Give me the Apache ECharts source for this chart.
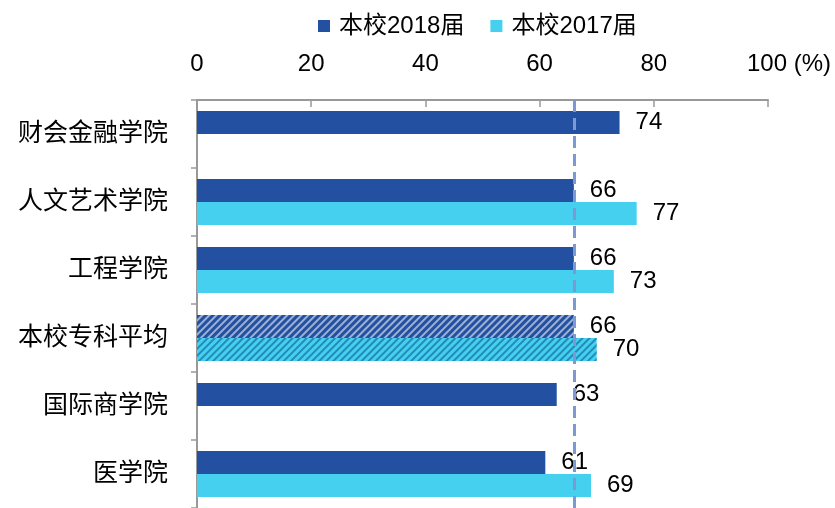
<!DOCTYPE html>
<html>
<head>
<meta charset="utf-8">
<script src="https://cdn.jsdelivr.net/npm/echarts@6/dist/echarts.min.js"></script>
<style>html,body{margin:0;padding:0;background:#fff}#c{width:835px;height:508px}</style>
</head>
<body>
<div id="c"></div>
<script>
const categories = ['财会金融学院', '人文艺术学院', '工程学院', '本校专科平均', '国际商学院', '医学院'];
const values2018 = [74, 66, 66, 66, 63, 61];
const values2017 = [null, 77, 73, 70, null, 69];
const seriesNames = ['本校2018届', '本校2017届'];
const averageLine = 66;
const hatchedCategory = '本校专科平均';
const xTicks = [0, 20, 40, 60, 80, 100];

const FONT = '"Liberation Sans", Arial, "Noto Sans CJK SC", sans-serif';
const DARK = '#2350a0';
const CYAN = '#45d0f0';

function buildData(vals, decalColor) {
  return vals.map((v, i) => {
    if (categories[i] === hatchedCategory) {
      return {
        value: v,
        itemStyle: {
          decal: {
            symbol: 'rect',
            color: decalColor,
            dashArrayX: [1, 0],
            dashArrayY: [2, 3],
            rotation: -Math.PI / 4,
            symbolSize: 1
          }
        }
      };
    }
    return v;
  });
}

const labelCfg = {
  show: true,
  position: 'right',
  distance: 16,
  color: '#000',
  fontSize: 24,
  fontFamily: FONT
};

const chart = echarts.init(document.getElementById('c'), null, { renderer: 'canvas' });
chart.setOption({
  animation: false,
  backgroundColor: '#fff',
  legend: {
    data: seriesNames,
    left: 313,
    top: 9,
    itemWidth: 12,
    itemHeight: 12,
    itemGap: 26,
    icon: 'rect',
    textStyle: { fontSize: 24, fontFamily: FONT, color: '#000', padding: [0, 0, 0, 4] }
  },
  grid: { left: 197, right: 67, top: 100, bottom: -5, containLabel: false },
  xAxis: {
    type: 'value',
    position: 'top',
    min: 0,
    max: 100,
    interval: 20,
    axisLine: { show: true, lineStyle: { color: '#999', width: 2 } },
    axisTick: { show: true, inside: true, length: 7, lineStyle: { color: '#999', width: 1.5 } },
    splitLine: { show: false },
    axisLabel: {
      margin: 24,
      fontSize: 24,
      fontFamily: FONT,
      color: '#000',
      formatter: function (v) {
        return v === xTicks[xTicks.length - 1] ? '{u|' + v + ' (%)}' : String(v);
      },
      rich: { u: { fontSize: 24, fontFamily: FONT, color: '#000', padding: [0, 0, 0, 42] } }
    }
  },
  yAxis: {
    type: 'category',
    data: categories,
    inverse: true,
    axisLine: { show: true, lineStyle: { color: '#999', width: 2 } },
    axisTick: { show: true, length: 6, lineStyle: { color: '#999', width: 1.5 } },
    axisLabel: { margin: 29, fontSize: 25, fontFamily: FONT, color: '#000' }
  },
  series: [
    {
      name: seriesNames[0],
      type: 'bar',
      barWidth: 23,
      barGap: '0%',
      itemStyle: { color: DARK },
      label: labelCfg,
      data: buildData(values2018, 'rgba(255,255,255,0.55)'),
      markLine: {
        silent: true,
        symbol: ['none', 'none'],
        label: { show: false },
        lineStyle: { color: '#7b99d2', width: 3, type: [12, 6] },
        data: [{ xAxis: averageLine }]
      },
      z: 2
    },
    {
      name: seriesNames[1],
      type: 'bar',
      barWidth: 23,
      barGap: '0%',
      itemStyle: { color: CYAN },
      label: labelCfg,
      data: buildData(values2017, 'rgba(20,110,160,0.7)'),
      z: 2
    }
  ]
});
</script>
</body>
</html>
